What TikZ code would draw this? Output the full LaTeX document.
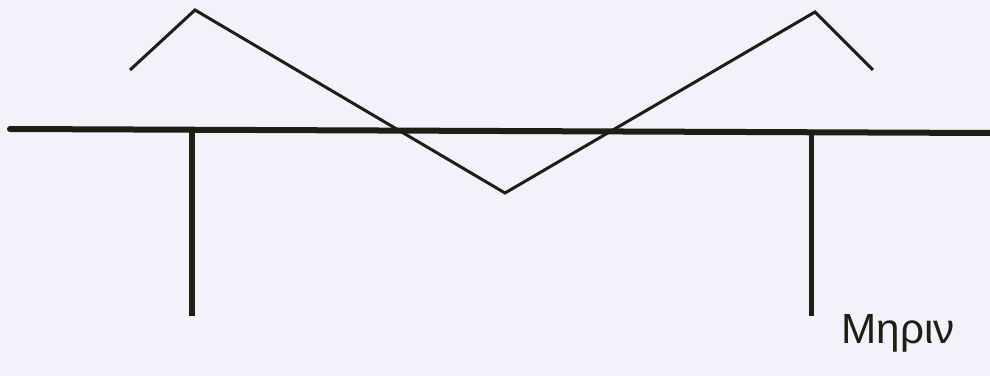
\documentclass[tikz,border=0pt]{standalone}
\usepackage{fontspec}
\setmainfont{Liberation Sans}
\definecolor{paperbg}{RGB}{241, 242, 250}
\definecolor{inkdark}{RGB}{28, 32, 20}
\usepackage{tikz}
\usetikzlibrary{positioning, calc}
\tikzset{
    beamline/.style={draw=inkdark, line width=0.6mm, line cap=round},
    postline/.style={draw=inkdark, line width=0.5mm},
    zigline/.style={draw=inkdark, line width=0.3mm, line join=miter},
    handtext/.style={font=\large, text=inkdark, inner sep=0pt},
}

\begin{document}
\begin{tikzpicture}[x=0.01cm, y=-0.01cm]
    \fill[paperbg] (0,0) rectangle (990,376);
    \useasboundingbox (0,0) rectangle (990,376);
    % beam and its two posts
    \coordinate (beamL) at (10,129);
    \coordinate (beamR) at (990,133);
    \draw[beamline] (beamL) -- (beamR);
    \coordinate (postLtop) at (192,130);
    \coordinate (postLbot) at (192,316);
    \coordinate (postRtop) at (811,132);
    \coordinate (postRbot) at (811,316);
    \draw[postline] (postLtop) -- (postLbot);
    \draw[postline] (postRtop) -- (postRbot);
    % zigzag
    \coordinate (z1) at (130,70);
    \coordinate (z2) at (195,10);
    \coordinate (z3) at (505,193);
    \coordinate (z4) at (815,12);
    \coordinate (z5) at (873,70);
    \draw[zigline] (z1) -- (z2) -- (z3) -- (z4) -- (z5);
    \node[handtext] (name) at (898,333) {Μηριν};
\end{tikzpicture}
\end{document}
